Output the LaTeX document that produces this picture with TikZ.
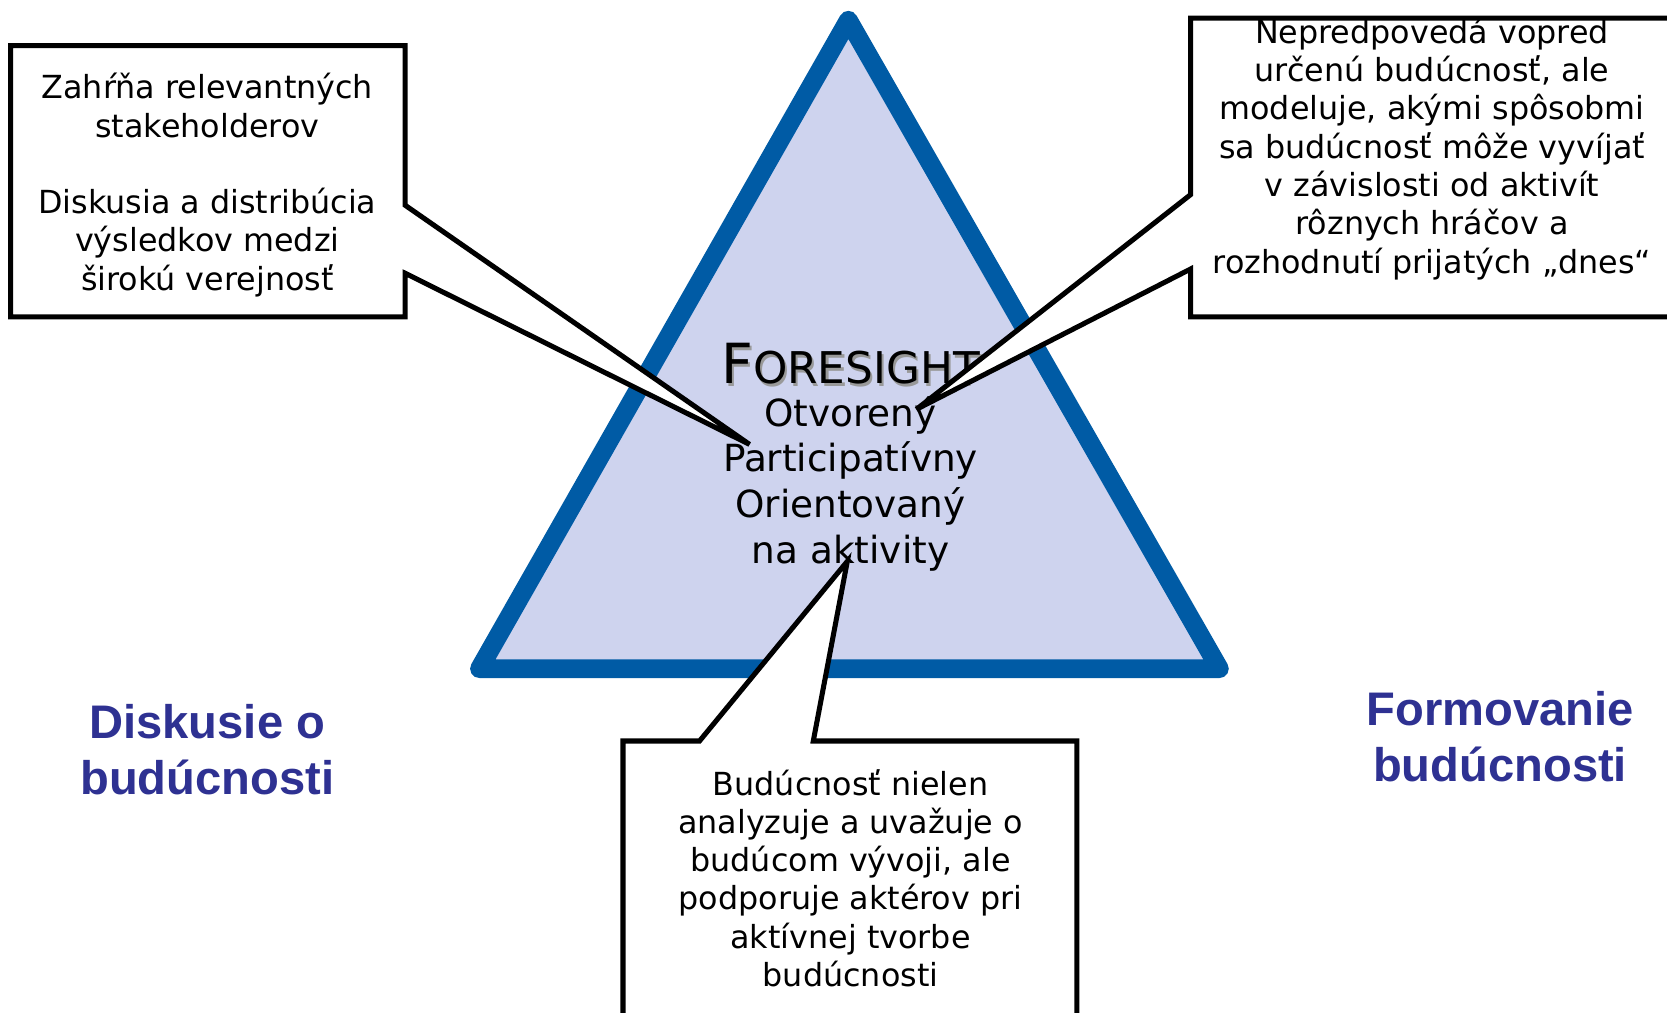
\documentclass[tikz,border=0pt]{standalone}
\usepackage{fontspec}
\setmainfont{DejaVu Sans}
\newfontfamily\labelfont{Liberation Sans}
\usetikzlibrary{positioning}
\usetikzlibrary{calc}

\definecolor{triblue}{RGB}{0,91,165}
\definecolor{trifill}{RGB}{206,211,238}
\definecolor{labelblue}{RGB}{46,49,146}

\tikzset{
  boxtext/.style={align=center,inner sep=0pt,font=\fontsize{8.5}{10.24}\selectfont},
  midtext/.style={align=center,inner sep=0pt,font=\fontsize{10}{12.2}\selectfont},
  sidelabel/.style={align=center,inner sep=0pt,text=labelblue,font=\labelfont\bfseries\fontsize{12.6}{15}\selectfont},
  callout/.style={draw=black,fill=white,line width=1.35pt,line join=miter}
}

\begin{document}
\begin{tikzpicture}[x=0.01cm,y=-0.01cm]
    \clip (0,0) rectangle (1568,952);
    \fill[white] (0,0) rectangle (1568,952);
    % triangle
    \draw[triblue,fill=trifill,line width=5pt,line join=round]
      (798,19) -- (1147,629) -- (451,629) -- cycle;
    % centre text
    \node[inner sep=0,text=black!40] (fsShadow) at (802,345)
      {\fontsize{14.8}{16}\selectfont F\fontsize{11.7}{14}\selectfont ORESIGHT};
    \node[inner sep=0] (fs) at (800,342)
      {\fontsize{14.8}{16}\selectfont F\fontsize{11.7}{14}\selectfont ORESIGHT};
    \node[midtext] (traits) at (800,455)
      {Otvorený\\Participatívny\\Orientovaný\\na aktivity};
    % pointer tips
    \node[inner sep=0,outer sep=0] (tipL) at (705,418) {};
    \node[inner sep=0,outer sep=0] (tipR) at (862,385) {};
    \node[inner sep=0,outer sep=0] (tipB) at (797,528) {};
    % callouts
    \draw[callout] (10,43) -- (381,43) -- (381,193) -- (tipL.center) -- (381,257)
      -- (381,298) -- (10,298) -- cycle;
    \draw[callout] (1120,17) -- (1600,17) -- (1600,298) -- (1120,298) -- (1120,253)
      -- (tipR.center) -- (1120,183) -- cycle;
    \draw[callout] (586,697) -- (658,697) -- (tipB.center) -- (765,697) -- (1013,697)
      -- (1013,980) -- (586,980) -- cycle;
    \node[boxtext] (involve) at (195,174)
      {Zahŕňa relevantných\\stakeholderov\\[10.24pt]Diskusia a distribúcia\\výsledkov medzi\\širokú verejnosť};
    \node[boxtext] (model) at (1347,140)
      {Nepredpovedá vopred\\určenú budúcnosť, ale\\modeluje, akými spôsobmi\\sa budúcnosť môže vyvíjať\\v závislosti od aktivít\\rôznych hráčov a\\rozhodnutí prijatých „dnes“};
    \node[boxtext] (support) at (800,826)
      {Budúcnosť nielen\\analyzuje a uvažuje o\\budúcom vývoji, ale\\podporuje aktérov pri\\aktívnej tvorbe\\budúcnosti};
    % side labels
    \node[sidelabel] (discuss) at (195,705) {Diskusie o\\budúcnosti};
    \node[sidelabel] (shape) at (1411,693) {Formovanie\\budúcnosti};
\end{tikzpicture}
\end{document}
